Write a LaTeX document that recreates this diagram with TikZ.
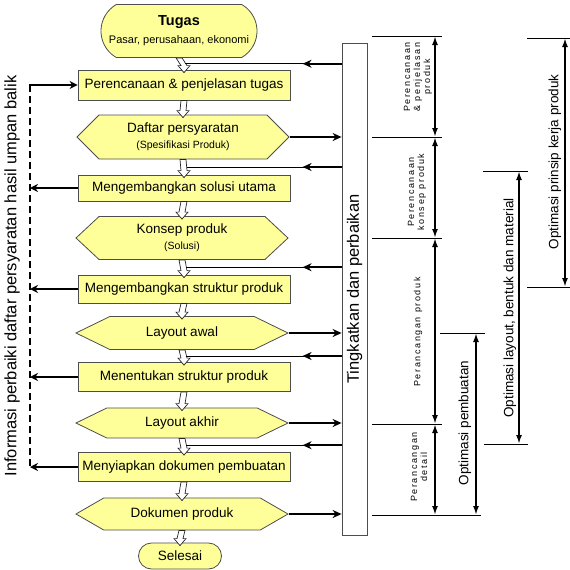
\documentclass[tikz,border=0pt]{standalone}
\usepackage{fontspec}
\setmainfont{Liberation Sans}
\newfontfamily\spacedfont[LetterSpace=18]{Liberation Sans}
\usetikzlibrary{calc,arrows.meta,shapes.misc,shapes.symbols}
\definecolor{BoxYellow}{HTML}{FFFF99}
\definecolor{LineGray}{HTML}{4D4D4D}

\tikzset{
  box/.style={draw=LineGray,fill=BoxYellow,line width=0.8pt,minimum width=212,inner sep=1pt,
    font=\fontsize{13.5}{15}\selectfont},
  hexa/.style={box,signal,signal to=west and east,align=center},
  startend/.style={box,rounded rectangle},
  hollow/.style={draw=black!85,fill=white,line width=0.7pt,
    to path={($(\tikztostart)+(-3,0)$) -- ($(\tikztotarget)+(-3,-4)$) -- ($(\tikztotarget)+(-6,-4)$)
      -- ($(\tikztotarget)+(0,3)$) -- ($(\tikztotarget)+(6,-4)$) -- ($(\tikztotarget)+(3,-4)$)
      -- ($(\tikztostart)+(3,0)$) -- cycle}},
  thinline/.style={line width=0.8pt},
  backarrow/.style={line width=2.2pt,-{Stealth[length=9pt,width=8pt]}},
  fwdarrow/.style={line width=2.2pt,-{Stealth[length=9pt,width=8pt]}},
  fbarrow/.style={line width=2pt,-{Stealth[length=8pt,width=8pt]}},
  fbdash/.style={line width=2.6pt,dash pattern=on 7pt off 4pt},
  tick/.style={line width=0.8pt},
  dim/.style={line width=1.8pt,{Latex[length=9pt,width=6pt]}-{Latex[length=9pt,width=6pt]}},
  smalllabel/.style={rotate=90,align=center,inner sep=0pt,font=\spacedfont\fontsize{9}{10}\selectfont},
  biglabel/.style={rotate=90,inner sep=0pt,font=\fontsize{13.5}{15}\selectfont}
}

\begin{document}
\begin{tikzpicture}[x=1pt,y=-1pt]
  \useasboundingbox (0,0) rectangle (570,570);

  % main column
  \node[startend,minimum width=158,minimum height=53,rounded rectangle arc length=120,align=center] (tugas) at (179,31)
    {{\fontsize{14.5}{16}\selectfont\bfseries Tugas}\\[3pt]{\fontsize{11}{12}\selectfont Pasar, perusahaan, ekonomi}};
  \node[box,minimum height=30] (rencana) at (184,85) {Perencanaan \& penjelasan tugas};
  \node[hexa,minimum height=44,signal pointer angle=90] (daftar) at (183,137)
    {Daftar persyaratan\\[1pt]{\fontsize{10.5}{12}\selectfont (Spesifikasi Produk)}};
  \node[box,minimum height=26] (solusi) at (184,188) {Mengembangkan solusi utama};
  \node[hexa,minimum height=43,signal pointer angle=86] (konsep) at (182,238)
    {Konsep produk\\[1pt]{\fontsize{10.5}{12}\selectfont (Solusi)}};
  \node[box,minimum height=28] (struktur) at (184,289) {Mengembangkan struktur produk};
  \node[hexa,minimum height=33,signal pointer angle=52] (awal) at (182,333) {Layout awal};
  \node[box,minimum height=29] (tentukan) at (184,377) {Menentukan struktur produk};
  \node[hexa,minimum height=30,signal pointer angle=52] (akhir) at (182,423) {Layout akhir};
  \node[box,minimum height=29] (siapkan) at (184,467) {Menyiapkan dokumen pembuatan};
  \node[hexa,minimum height=32,signal pointer angle=60] (dokumen) at (182,514) {Dokumen produk};
  \node[startend,minimum width=85,minimum height=26] (selesai) at (180,556) {Selesai};

  \node[draw=LineGray,line width=0.8pt,minimum width=25,minimum height=492,inner sep=0pt] (tingkat) at (354.5,289) {};
  \node[rotate=90,font=\fontsize{16.5}{18}\selectfont] (tingkattext) at (tingkat) {Tingkatkan dan perbaikan};

  % hollow arrows down the column
  \draw[hollow] (tugas.south) to (rencana.north);
  \draw[hollow] (rencana.south) to (daftar.north);
  \draw[hollow] (daftar.south) to (solusi.north);
  \draw[hollow] (solusi.south) to (konsep.north);
  \draw[hollow] (konsep.south) to (struktur.north);
  \draw[hollow] (struktur.south) to (awal.north);
  \draw[hollow] (awal.south) to (tentukan.north);
  \draw[hollow] (tentukan.south) to (akhir.north);
  \draw[hollow] (akhir.south) to (siapkan.north);
  \draw[hollow] (siapkan.south) to (dokumen.north);
  \draw[hollow] (dokumen.south) to (selesai.north);

  % back from the improvement box
  \coordinate (g1) at ($(tugas.south)!.5!(rencana.north)$);
  \coordinate (g2) at ($(daftar.south)!.5!(solusi.north)$);
  \coordinate (g3) at ($(konsep.south)!.5!(struktur.north)$);
  \coordinate (g4) at ($(awal.south)!.5!(tentukan.north)$);
  \coordinate (g5) at ($(akhir.south)!.5!(siapkan.north)$);
  \draw[thinline] ($(g1)+(3,0)$) -- (g1 -| tingkat.west);
  \draw[thinline] ($(g2)+(3,0)$) -- (g2 -| tingkat.west);
  \draw[thinline] ($(g3)+(3,0)$) -- (g3 -| tingkat.west);
  \draw[thinline] ($(g4)+(3,0)$) -- (g4 -| tingkat.west);
  \draw[thinline] ($(g5)+(3,0)$) -- (g5 -| tingkat.west);
  \draw[backarrow] (g1 -| tingkat.west) -- ++(-39,0);
  \draw[backarrow] (g2 -| tingkat.west) -- ++(-39,0);
  \draw[backarrow] (g3 -| tingkat.west) -- ++(-39,0);
  \draw[backarrow] (g4 -| tingkat.west) -- ++(-39,0);
  \draw[backarrow] (g5 -| tingkat.west) -- ++(-39,0);

  % results into the improvement box
  \draw[fwdarrow] (daftar.east) -- (daftar.east -| tingkat.west);
  \draw[fwdarrow] (awal.east) -- (awal.east -| tingkat.west);
  \draw[fwdarrow] (akhir.east) -- (akhir.east -| tingkat.west);
  \draw[fwdarrow] (dokumen.east) -- (dokumen.east -| tingkat.west);

  % feedback on the left
  \coordinate (fb) at (30,85);
  \draw[fbdash] (fb) -- (fb |- siapkan.west);
  \draw[fbarrow] ($(fb)+(-1.3,0)$) -- (rencana.west);
  \draw[fbarrow] (solusi.west) -- (solusi.west -| fb);
  \draw[fbarrow] (struktur.west) -- (struktur.west -| fb);
  \draw[fbarrow] (tentukan.west) -- (tentukan.west -| fb);
  \draw[fbarrow] (siapkan.west) -- (siapkan.west -| fb);
  \node[rotate=90,font=\fontsize{16.5}{18}\selectfont] (info) at (12,276)
    {Informasi perbaiki daftar persyaratan hasil umpan balik};

  % phases on the right
  \draw[tick] (372,36) -- (442,36);
  \draw[tick] (372,137) -- (442,137);
  \draw[tick] (372,238) -- (442,238);
  \draw[tick] (372,424) -- (442,424);
  \draw[tick] (372,515) -- (481,515);
  \draw[tick] (440,333) -- (485,333);
  \draw[tick] (483,171) -- (528,171);
  \draw[tick] (484,444) -- (528,444);
  \draw[tick] (527,38) -- (570,38);
  \draw[tick] (527,287) -- (570,287);

  \draw[dim] (435,36) -- (435,137);
  \draw[dim] (435,137) -- (435,238);
  \draw[dim] (435,238) -- (435,424);
  \draw[dim] (435,424) -- (435,515);
  \draw[dim] (476,333) -- (476,515);
  \draw[dim] (519,171) -- (519,444);
  \draw[dim] (565,38) -- (565,287);

  \node[smalllabel] (plan) at (418,77) {Perencanaan\\\& penjelasan\\produk};
  \node[smalllabel] (concept) at (417,192) {Perencanaan\\konsep produk};
  \node[smalllabel] (design) at (418,332) {Perancangan produk};
  \node[smalllabel] (detail) at (419,467) {Perancangan\\detail};
  \node[biglabel] (optbuat) at (465,423) {Optimasi pembuatan};
  \node[biglabel] (optlayout) at (510,308) {Optimasi layout, bentuk dan material};
  \node[biglabel] (optprinsip) at (555,162) {Optimasi prinsip kerja produk};
\end{tikzpicture}
\end{document}
